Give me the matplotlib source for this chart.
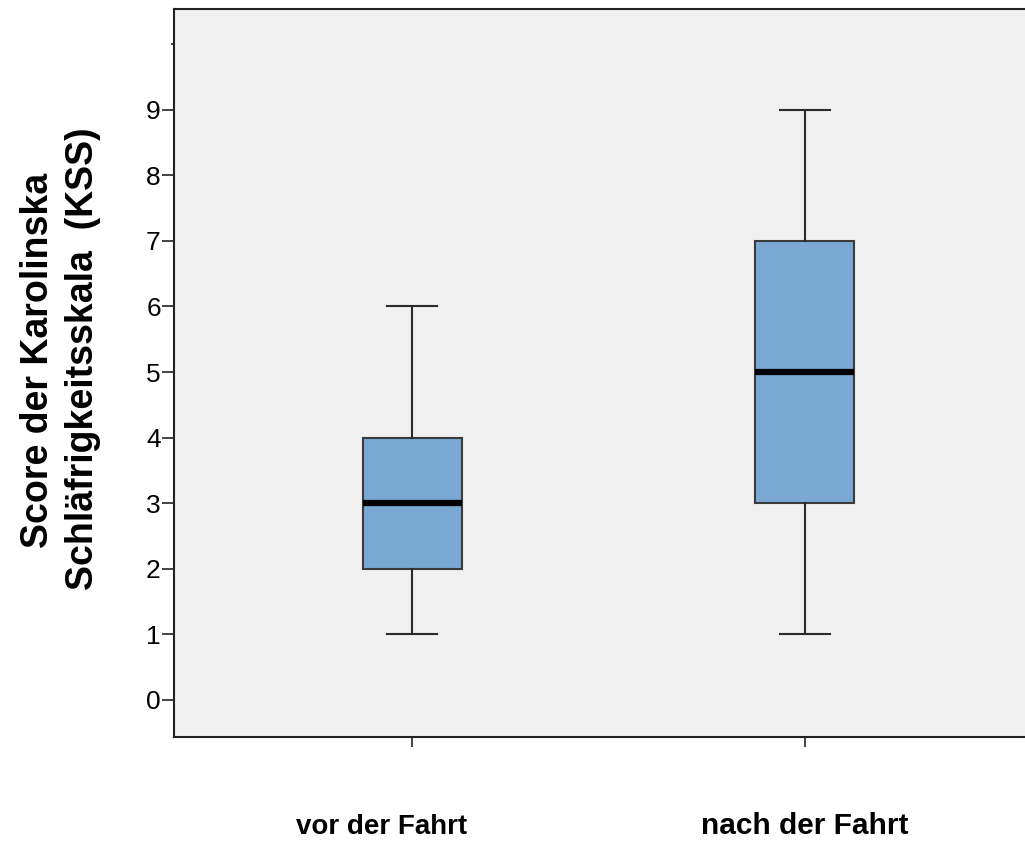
import matplotlib.pyplot as plt
from matplotlib.transforms import ScaledTranslation

plt.rcParams['font.family'] = ['Liberation Sans', 'DejaVu Sans']

groups = ['vor der Fahrt', 'nach der Fahrt']
whis_low = [1, 1]
q1 = [2, 3]
medians = [3, 5]
q3 = [4, 7]
whis_high = [6, 9]
y_ticks = list(range(0, 10))

stats = []
for i in range(len(groups)):
    stats.append({'whislo': whis_low[i], 'q1': q1[i], 'med': medians[i],
                  'q3': q3[i], 'whishi': whis_high[i], 'fliers': []})

fig = plt.figure(figsize=(10.25, 8.42), dpi=100)
ax = fig.add_axes([174 / 1025, 1 - 737 / 842, 1 - 174 / 1025, 728 / 842])
ax.set_facecolor('#f0f0f0')

ax.bxp(stats, positions=[1, 2], widths=0.252, patch_artist=True,
       boxprops=dict(facecolor='#79a8d4', edgecolor='#3a3a3a', linewidth=1.5),
       medianprops=dict(color='black', linewidth=4.5),
       whiskerprops=dict(color='#2a2a2a', linewidth=1.5),
       capprops=dict(color='#2a2a2a', linewidth=1.5),
       capwidths=0.127, showfliers=False)

ax.set_xlim(0.394, 2.56)
ax.set_ylim(-0.57, 10.54)

ax.set_yticks(y_ticks)
ax.set_yticklabels([str(t) for t in y_ticks], fontsize=19)
ax.set_yticks([10], minor=True)
ax.tick_params(axis='y', which='major', length=8.5, width=1.2, pad=1,
               color='#222222', labelcolor='black')
ax.tick_params(axis='y', which='minor', length=2.5, width=1.2, color='#222222')

ax.set_xticks([1, 2])
ax.set_xticklabels(groups, fontweight='bold')
ax.tick_params(axis='x', length=7.2, width=1.2, pad=48, color='#222222')
lbl1, lbl2 = ax.get_xticklabels()
lbl1.set_fontsize(20)
lbl2.set_fontsize(21.5)
lbl1.set_transform(lbl1.get_transform() + ScaledTranslation(-0.31, 0, fig.dpi_scale_trans))
lbl2.set_transform(lbl2.get_transform() + ScaledTranslation(0, 0.02, fig.dpi_scale_trans))

for side in ['left', 'bottom', 'top']:
    ax.spines[side].set_color('#222222')
    ax.spines[side].set_linewidth(1.5)
ax.spines['right'].set_visible(False)

fig.text(48 / 1025, 1 - 360 / 842, 'Score der Karolinska', rotation=90, fontsize=27,
         fontweight='bold', ha='center', va='baseline', rotation_mode='anchor')
fig.text(93 / 1025, 1 - 359 / 842, 'Schläfrigkeitsskala  (KSS)', rotation=90, fontsize=27,
         fontweight='bold', ha='center', va='baseline', rotation_mode='anchor')

fig.savefig('out.png', dpi=100)
